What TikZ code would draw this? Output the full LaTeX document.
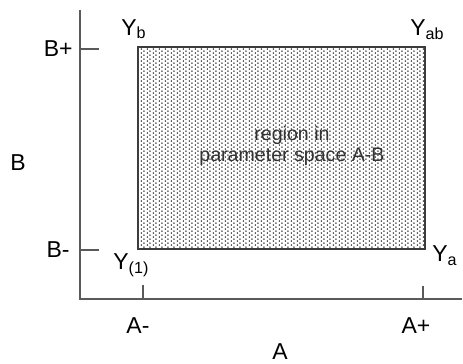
\documentclass[tikz,border=0pt]{standalone}
\usepackage{fontspec}
\setmainfont{Liberation Sans}
\usetikzlibrary{patterns}
\pgfdeclarepatternformonly{fine dots}{\pgfqpoint{0pt}{0pt}}{\pgfqpoint{2.8pt}{2.2pt}}{\pgfqpoint{2.8pt}{2.2pt}}{%
  \pgfpathcircle{\pgfqpoint{0.7pt}{0.55pt}}{0.42pt}%
  \pgfpathcircle{\pgfqpoint{2.1pt}{1.65pt}}{0.42pt}%
  \pgfusepath{fill}}
\begin{document}
\begin{tikzpicture}[x=0.5pt,y=-0.5pt,font=\fontsize{11.5}{13}\selectfont]
  \definecolor{ax}{HTML}{5A5A5A}
  \definecolor{bd}{HTML}{3C3C3C}
  \tikzset{lbl/.style={inner sep=0pt},
    corner/.style={inner sep=0pt,anchor=base west}}
  \useasboundingbox (0,0) rectangle (463,364);
  % axes and ticks
  \draw[ax,line width=0.55pt] (80,10) -- (80,299) -- (462,299);
  \draw[ax,line width=0.55pt] (80,49) -- (99,49);
  \draw[ax,line width=0.55pt] (80,250) -- (99,250);
  \draw[ax,line width=0.55pt] (143,285) -- (143,299);
  \draw[ax,line width=0.55pt] (423,286) -- (423,299);
  % dotted region
  \fill[white] (138,47) rectangle (425,249);
  \fill[pattern=fine dots,pattern color=black] (138,47) rectangle (425,249);
  \draw[bd,line width=0.75pt] (138,47) rectangle (425,249);
  \node[lbl,align=center,text=black!80,font=\fontsize{9.8}{10.2}\selectfont] (region) at (292,146) {region in\\parameter space A-B};
  % axis labels
  \node[lbl,anchor=east] (bplus) at (73,49) {B+};
  \node[lbl,anchor=east] (bminus) at (70,250) {B-};
  \node[lbl] (b) at (18,163) {B};
  \node[lbl] (aminus) at (138,326) {A-};
  \node[lbl] (aplus) at (416,326) {A+};
  \node[lbl] (a) at (280,352) {A};
  % corner values
  \node[corner] (yb) at (121,35) {Y\textsubscript{b}};
  \node[corner] (yab) at (410,36) {Y\textsubscript{ab}};
  \node[corner] (yone) at (113,270) {Y\textsubscript{(1)}};
  \node[corner] (ya) at (432,262) {Y\textsubscript{a}};
\end{tikzpicture}
\end{document}
